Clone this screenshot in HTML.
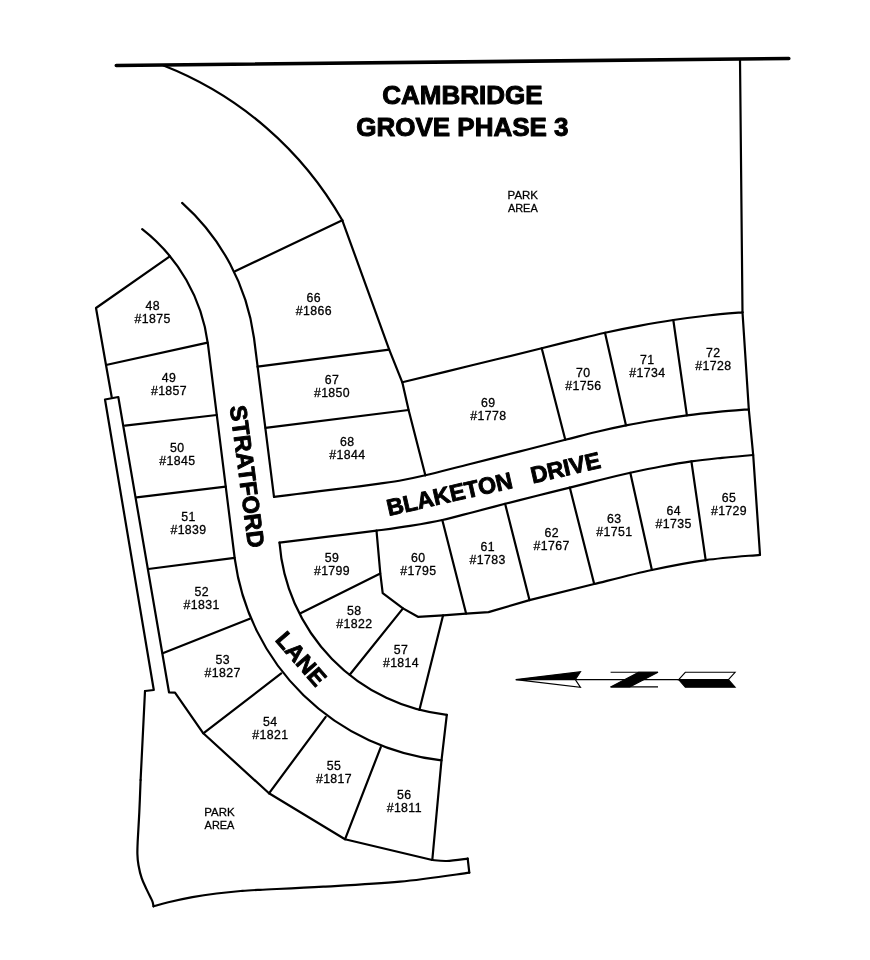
<!DOCTYPE html>
<html lang="en">
<head>
<meta charset="utf-8">
<title>Cambridge Grove Phase 3</title>
<style>
html,body{margin:0;padding:0;background:#fff;}
body{width:870px;height:960px;overflow:hidden;}
svg{display:block;filter:grayscale(1);}
.ln{fill:none;stroke:#000;stroke-linecap:round;stroke-linejoin:round;}
.title{font-family:"Liberation Sans",Arial,Helvetica,sans-serif;font-weight:bold;font-size:26px;fill:#000;stroke:#000;stroke-width:1px;stroke-linejoin:round;text-anchor:middle;}
.street{font-family:"Liberation Sans",Arial,Helvetica,sans-serif;font-weight:bold;font-size:23.2px;fill:#000;stroke:#000;stroke-width:0.9px;stroke-linejoin:round;text-anchor:middle;white-space:pre;}
.lot{font-family:"Liberation Sans",Arial,Helvetica,sans-serif;font-size:12.3px;fill:#000;stroke:#000;stroke-width:0.3px;text-anchor:middle;letter-spacing:0.4px;}
.park{font-family:"Liberation Sans",Arial,Helvetica,sans-serif;font-size:11.8px;fill:#000;stroke:#000;stroke-width:0.3px;text-anchor:middle;}
</style>
</head>
<body>
<svg width="870" height="960" viewBox="0 0 870 960" role="img" aria-label="Cambridge Grove Phase 3 plat map">
<rect x="0" y="0" width="870" height="960" fill="#fff"/>
<g class="ln">
<path d="M116.3 65.5 L788.8 58.5" stroke-width="3.6"/>
<path d="M740 59 L742.5 312.3" stroke-width="2.2"/>
<path d="M163.5 65.5 A355 355 0 0 1 342.3 220.3" stroke-width="2.2"/>
<path d="M342.3 220.3 L235 271.3" stroke-width="2.2"/>
<path d="M342.3 220.3 L389.2 349.6 L402.3 382.3 L408.6 410 L425.4 475.4" stroke-width="2.2"/>
<path d="M142.2 229.1 A174.5 174.5 0 0 1 207.9 343.9 L234.8 559 A234.5 234.5 0 0 0 441.5 760.3" stroke-width="2.2"/>
<path d="M182.1 202.9 A221 221 0 0 1 254 338 L274 496.8" stroke-width="2.2"/>
<path d="M279.5 542.6 A187.5 187.5 0 0 0 446.8 714.8" stroke-width="2.2"/>
<path d="M446.8 714.8 L441.5 760.3 L432.3 860" stroke-width="2.2"/>
<path d="M274 496.8 C277.8 496.3 289.4 494.9 297 494 C304.6 493.1 311 492.2 319.8 491.1 C328.6 490 340.1 488.7 350 487.5 C359.9 486.3 370.7 484.9 379.5 483.7 C388.3 482.4 395.4 481.4 403 480 C410.6 478.6 414.3 477.9 425.3 475.3 C436.3 472.7 453.4 468.2 469.2 464.2 C485 460.2 504 455.5 520 451.4 C536 447.3 552.6 443 565.3 439.8 C578 436.6 585.9 434.4 596 432 C606.1 429.6 616 427.4 626 425.4 C636 423.4 645.9 421.7 656 420 C666.1 418.3 676.6 416.7 686.9 415.3 C697.2 413.9 707.7 412.8 718 411.8 C728.3 410.8 743.7 409.7 748.8 409.3" stroke-width="2.2"/>
<path d="M279.5 542.6 C287.6 541.6 311.8 538.7 328 536.7 C344.2 534.7 362.9 532.4 376.6 530.6 C390.3 528.8 399.1 527.7 410 525.9 C420.9 524.1 431.8 522.3 442.3 520 C452.8 517.7 462.5 514.9 473 512.2 C483.5 509.5 494.4 506.6 505.1 503.8 C515.8 501.1 526.2 498.4 537 495.7 C547.8 493 559.3 490.2 569.8 487.6 C580.3 485 589.9 482.5 600 480 C610.1 477.5 620.1 475.1 630.3 472.8 C640.5 470.6 650.8 468.4 661 466.5 C671.2 464.6 681.2 462.8 691.4 461.4 C701.6 459.9 711.7 458.9 722 457.8 C732.3 456.7 748 455.5 753.2 455" stroke-width="2.2"/>
<path d="M742.5 312.3 L748.8 409.3 L753.2 455 L760 554.8" stroke-width="2.2"/>
<path d="M402.3 382.3 C413.9 379.5 448.8 371 472 365.3 C495.2 359.6 524.7 352.5 541.7 348.3 C558.7 344.1 563.5 342.8 574 340.2 C584.5 337.6 594.2 335.1 605 332.7 C615.8 330.3 627.6 327.9 639 325.8 C650.4 323.7 661.8 321.7 673.3 320 C684.8 318.3 696.5 316.8 708 315.5 C719.5 314.2 736.8 312.8 742.5 312.3" stroke-width="2.2"/>
<path d="M541.7 348.3 L565.3 439.8" stroke-width="2.2"/>
<path d="M605 332.7 L626 425.4" stroke-width="2.2"/>
<path d="M673.3 320 L686.9 415.3" stroke-width="2.2"/>
<path d="M257.5 366.6 L389.2 349.6" stroke-width="2.2"/>
<path d="M265.5 427.8 L408.6 410" stroke-width="2.2"/>
<path d="M169.8 256.3 L96 308 L106 365 L111.7 397" stroke-width="2.2"/>
<path d="M106 365 L207.6 342.6" stroke-width="2.2"/>
<path d="M125 425.7 L216.8 415" stroke-width="2.2"/>
<path d="M136.7 497.3 L225.7 486.7" stroke-width="2.2"/>
<path d="M148.3 569 L234.6 557.9" stroke-width="2.2"/>
<path d="M162.7 653.3 L249.8 618.8" stroke-width="2.2"/>
<path d="M203.3 733.3 L281.2 673.4" stroke-width="2.2"/>
<path d="M269 793.3 L325.7 716.8" stroke-width="2.2"/>
<path d="M345 839.3 L380.8 747.1" stroke-width="2.2"/>
<path d="M145 691 L153.8 690 L105 399.5 L118.3 397 L169 692.3 L175 692.7 L203.3 733.3 L269 793.3 L345 839.3 L432.3 860" stroke-width="2.2"/>
<path d="M145 691 L140.6 780" stroke-width="2.2"/>
<path d="M140.6 780 C140.4 785.4 139.8 802 139.3 812.2 C138.8 822.4 138 834.2 137.7 841.2 C137.4 848.2 137.3 850 137.4 854 C137.5 858 137.8 861.3 138.5 865.3 C139.2 869.3 140.3 874.2 141.7 878.2 C143 882.2 145 885.9 146.6 889.4 C148.2 892.9 150.4 897 151.4 899.1 C152.4 901.2 152.3 901.1 152.7 902.3 C153 903.5 153.4 905.6 153.5 906.3" stroke-width="2.2"/>
<path d="M153.5 906.3 C156 905.6 161.8 903.8 168.3 902.3 C174.8 900.8 184.4 898.7 192.4 897.2 C200.4 895.7 208.6 894.5 216.6 893.5 C224.6 892.5 233.5 891.6 240.7 891 C247.9 890.4 246.2 890.5 260 889.8 C273.8 889.1 300 888.1 323.3 886.7 C346.6 885.4 375.7 884 400 881.7 C424.3 879.4 457.8 874.2 469.3 872.7" stroke-width="2.2"/>
<path d="M469.3 872.7 L467.7 858.7" stroke-width="2.2"/>
<path d="M467.7 858.7 C464.2 859.1 452.6 860.8 446.7 861 C440.8 861.2 434.7 860.2 432.3 860" stroke-width="2.2"/>
<path d="M376.5 530.7 L380.3 573.4 L382.7 593.2 L403 608.4 L417.9 616.8 L443.1 615.3 L466.1 613.6 L488.5 612.1 L529.5 600.1 L594.2 584" stroke-width="2.2"/>
<path d="M594.2 584 C603.8 581.7 633.3 574 651.9 570 C670.5 566 687.7 562.6 705.7 560.1 C723.7 557.6 751 555.7 760 554.8" stroke-width="2.2"/>
<path d="M380.3 573.4 L300 613.6" stroke-width="2.2"/>
<path d="M403 608.4 L349.7 674.8" stroke-width="2.2"/>
<path d="M443.1 615.3 L419.4 709.9" stroke-width="2.2"/>
<path d="M442.3 520 L466.1 613.6" stroke-width="2.2"/>
<path d="M505.1 503.8 L529.5 600.1" stroke-width="2.2"/>
<path d="M569.8 487.6 L594.2 584" stroke-width="2.2"/>
<path d="M630.3 472.8 L651.9 570" stroke-width="2.2"/>
<path d="M691.4 461.4 L705.7 560.1" stroke-width="2.2"/>
</g>
<text class="title" x="462.4" y="104">CAMBRIDGE</text>
<text class="title" x="462.4" y="136">GROVE PHASE 3</text>
<text class="street" xml:space="preserve" style="font-size:23.5px" transform="translate(247.4 476.4) rotate(82.5)" x="0" y="8.3">STRATFORD</text>
<text class="street" xml:space="preserve" transform="translate(301.3 658.7) rotate(49)" x="0" y="8.2">LANE</text>
<text class="street" xml:space="preserve" transform="translate(493.4 483.9) rotate(-12.8)" x="0" y="8.2">BLAKETON   DRIVE</text>
<text class="lot" x="152.7" y="310">48</text><text class="lot" x="152.7" y="323">#1875</text>
<text class="lot" x="169" y="382">49</text><text class="lot" x="169" y="395">#1857</text>
<text class="lot" x="177.3" y="452">50</text><text class="lot" x="177.3" y="465">#1845</text>
<text class="lot" x="188.5" y="521">51</text><text class="lot" x="188.5" y="534">#1839</text>
<text class="lot" x="201.7" y="596">52</text><text class="lot" x="201.7" y="609">#1831</text>
<text class="lot" x="222.7" y="664">53</text><text class="lot" x="222.7" y="677">#1827</text>
<text class="lot" x="270.3" y="726">54</text><text class="lot" x="270.3" y="739">#1821</text>
<text class="lot" x="334" y="770">55</text><text class="lot" x="334" y="783">#1817</text>
<text class="lot" x="404.3" y="799">56</text><text class="lot" x="404.3" y="812">#1811</text>
<text class="lot" x="401" y="654">57</text><text class="lot" x="401" y="667">#1814</text>
<text class="lot" x="354.3" y="615">58</text><text class="lot" x="354.3" y="628">#1822</text>
<text class="lot" x="332" y="562">59</text><text class="lot" x="332" y="575">#1799</text>
<text class="lot" x="418.3" y="562">60</text><text class="lot" x="418.3" y="575">#1795</text>
<text class="lot" x="487.7" y="551">61</text><text class="lot" x="487.7" y="564">#1783</text>
<text class="lot" x="551.7" y="537">62</text><text class="lot" x="551.7" y="550">#1767</text>
<text class="lot" x="614.3" y="523">63</text><text class="lot" x="614.3" y="536">#1751</text>
<text class="lot" x="673.7" y="515">64</text><text class="lot" x="673.7" y="528">#1735</text>
<text class="lot" x="729" y="502">65</text><text class="lot" x="729" y="515">#1729</text>
<text class="lot" x="313.8" y="302">66</text><text class="lot" x="313.8" y="315">#1866</text>
<text class="lot" x="332" y="384">67</text><text class="lot" x="332" y="397">#1850</text>
<text class="lot" x="347.3" y="446">68</text><text class="lot" x="347.3" y="459">#1844</text>
<text class="lot" x="488.3" y="407">69</text><text class="lot" x="488.3" y="420">#1778</text>
<text class="lot" x="583.3" y="377">70</text><text class="lot" x="583.3" y="390">#1756</text>
<text class="lot" x="647.3" y="364">71</text><text class="lot" x="647.3" y="377">#1734</text>
<text class="lot" x="713.3" y="357">72</text><text class="lot" x="713.3" y="370">#1728</text>
<text class="park" x="522.8" y="199" textLength="30.4" lengthAdjust="spacingAndGlyphs">PARK</text><text class="park" x="522.8" y="212" textLength="29.8" lengthAdjust="spacingAndGlyphs">AREA</text>
<text class="park" x="219.5" y="816" textLength="30.4" lengthAdjust="spacingAndGlyphs">PARK</text><text class="park" x="219.5" y="829" textLength="29.8" lengthAdjust="spacingAndGlyphs">AREA</text>
<g stroke="#000" stroke-width="1.1" stroke-linejoin="miter">
<line x1="575.3" y1="679.6" x2="679" y2="679.6" stroke-width="1.1"/>
<polygon points="515.8,679.6 580.5,671.8 575.3,679.6" fill="#000"/>
<polygon points="515.8,679.6 580.5,687.4 575.3,679.6" fill="#fff"/>
<line x1="610.6" y1="672.3" x2="658" y2="672.3" stroke-width="1.1"/>
<line x1="610.6" y1="686.9" x2="658" y2="686.9" stroke-width="1.1"/>
<polygon points="638.6,672.3 658,672.3 629.8,686.9 610.6,686.9" fill="#000"/>
<polygon points="678.7,679.6 685.3,672.3 735.1,672.3 728.4,679.6" fill="#fff"/>
<polygon points="678.7,679.6 685.3,687.2 735.1,687.2 728.4,679.6" fill="#000"/>
</g>
</svg>
</body>
</html>
